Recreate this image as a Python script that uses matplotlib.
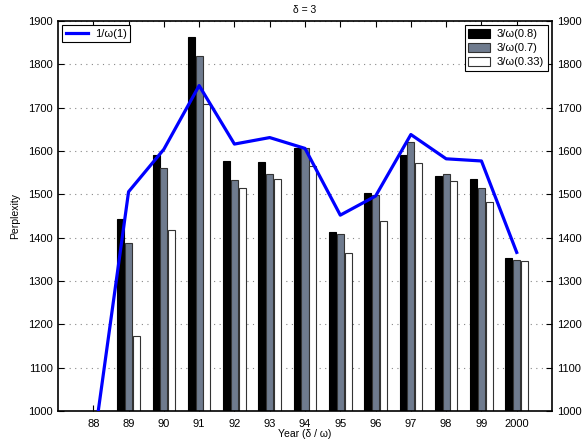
import numpy as np
import matplotlib
matplotlib.use("Agg")
import matplotlib.pyplot as plt

plt.rcParams["font.family"] = ["Liberation Sans", "DejaVu Sans"]

years = ["88", "89", "90", "91", "92", "93", "94", "95", "96", "97", "98", "99", "2000"]
nan = np.nan
bars_08 = [nan, 1443, 1591, 1864, 1578, 1574, 1606, 1413, 1504, 1590, 1543, 1536, 1353]
bars_07 = [nan, 1388, 1560, 1819, 1534, 1547, 1608, 1408, 1499, 1620, 1548, 1515, 1348]
bars_033 = [nan, 1173, 1418, 1708, 1514, 1536, 1566, 1365, 1438, 1572, 1531, 1482, 1346]
line_1 = [917, 1506, 1604, 1751, 1616, 1631, 1606, 1452, 1496, 1638, 1582, 1577, 1366]

x = np.arange(len(years))

fig = plt.figure(figsize=(5.87, 4.44), dpi=100)
ax = fig.add_axes([0.0988, 0.0743, 0.8416, 0.8784])

w = 0.2
off = 0.22
b1 = ax.bar(x - off, bars_08, w, color="black", edgecolor="black", linewidth=0.8,
            label="3/\u03c9(0.8)", zorder=2)
b2 = ax.bar(x, bars_07, w, color="#6f7b8e", edgecolor="#333333", linewidth=0.8,
            label="3/\u03c9(0.7)", zorder=2)
b3 = ax.bar(x + off, bars_033, w, color="white", edgecolor="#333333", linewidth=0.8,
            label="3/\u03c9(0.33)", zorder=2)
ln, = ax.plot(x, line_1, color="#0000ff", linewidth=2.3, label="1/\u03c9(1)", zorder=3)

ax.set_xlim(-1, 13)
ax.set_ylim(1000, 1900)
ax.set_xticks(x)
ax.set_xticklabels(years)
ax.set_yticks(np.arange(1000, 1901, 100))
ax.yaxis.grid(True, linestyle=(0, (1, 4)), color="#888888", linewidth=0.8, zorder=0)
ax.set_axisbelow(True)
ax.tick_params(axis="both", direction="in", labelsize=8, length=4, width=0.8,
               top=True, right=True, labelright=True)
ax.tick_params(axis="x", pad=6)
for s in ax.spines.values():
    s.set_linewidth(1.2)

ax.set_title("\u03b4 = 3", fontsize=7.5, pad=6)
ax.set_ylabel("Perplexity", fontsize=7.5, labelpad=6)
ax.set_xlabel("Year (\u03b4 / \u03c9)", fontsize=7.5, labelpad=0)

leg1 = ax.legend(handles=[ln], loc="upper left", fontsize=8, fancybox=False,
                 edgecolor="black", framealpha=1, borderaxespad=0.4,
                 handlelength=2.0, handletextpad=0.6, borderpad=0.3)
leg1.get_frame().set_linewidth(0.8)
ax.add_artist(leg1)
leg2 = ax.legend(handles=[b1, b2, b3], loc="upper right", fontsize=8, fancybox=False,
                 edgecolor="black", framealpha=1, borderaxespad=0.4,
                 handlelength=2.0, handleheight=0.85, handletextpad=0.6,
                 borderpad=0.3, labelspacing=0.35)
leg2.get_frame().set_linewidth(0.8)

fig.savefig("out.png", dpi=100)
